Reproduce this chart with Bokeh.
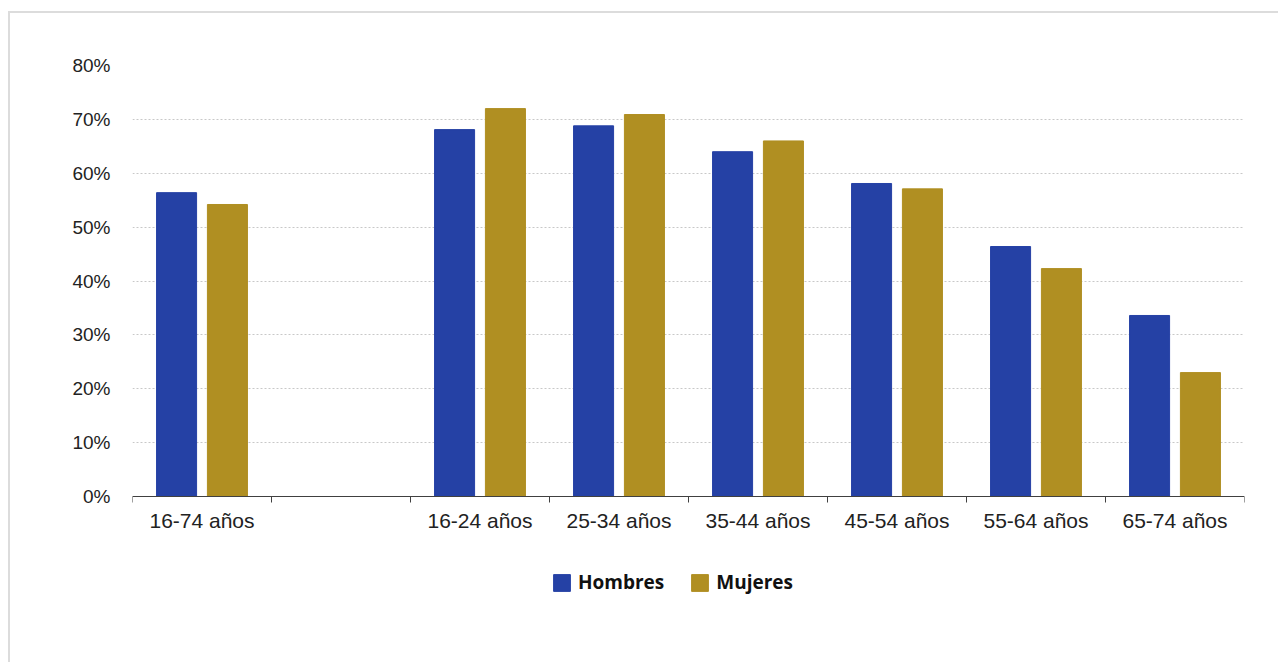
from bokeh.plotting import figure
from bokeh.models import (ColumnDataSource, FixedTicker, Legend, LegendItem,
                          NumeralTickFormatter)
from bokeh.embed import file_html
from bokeh.resources import INLINE

# Age groups; the empty slot separates the total from the breakdown
categories = ["16-74 años", "", "16-24 años", "25-34 años", "35-44 años",
              "45-54 años", "55-64 años", "65-74 años"]
hombres = [56.4, None, 68.1, 68.8, 64.0, 58.1, 46.4, 33.6]
mujeres = [54.2, None, 72.0, 70.9, 66.0, 57.1, 42.3, 23.0]
y_ticks = [0, 10, 20, 30, 40, 50, 60, 70, 80]

BLUE = "#2541a5"
GOLD = "#b08f22"

centers = [i + 0.5 for i, c in enumerate(categories)]
idx = [i for i, c in enumerate(categories) if c]
src_h = ColumnDataSource(dict(x=[centers[i] - 0.183 for i in idx],
                              top=[hombres[i] / 100 for i in idx]))
src_m = ColumnDataSource(dict(x=[centers[i] + 0.183 for i in idx],
                              top=[mujeres[i] / 100 for i in idx]))

# the frame reaches below zero so the legend can sit inside it
PX_PER_UNIT = 538.75
FRAME_H = 555
y_top = 0.8
y_bottom = y_top - FRAME_H / PX_PER_UNIT

p = figure(frame_width=1112, frame_height=FRAME_H,
           x_range=(0, len(categories)), y_range=(y_bottom, y_top),
           output_backend="svg", toolbar_location=None,
           min_border_left=122, min_border_right=34, min_border_top=52,
           min_border_bottom=44)
p.margin = (11, 0, 0, 8)
p.styles = {"border-left": "2px solid #dcdcdc", "border-top": "2px solid #dcdcdc"}

r_h = p.vbar(x="x", top="top", width=0.288, source=src_h, fill_color=BLUE,
             line_color=BLUE)
r_m = p.vbar(x="x", top="top", width=0.288, source=src_m, fill_color=GOLD,
             line_color=GOLD)

p.outline_line_color = None
p.background_fill_color = "white"
p.border_fill_color = "white"

# x axis pinned at zero: labels centred under each group,
# tick marks on the group boundaries
xa = p.xaxis[0]
xa.fixed_location = 0
xa.ticker = FixedTicker(ticks=[centers[i] for i in idx],
                        minor_ticks=list(range(len(categories) + 1)))
xa.major_label_overrides = {centers[i]: categories[i] for i in idx}
xa.major_tick_in = 0
xa.major_tick_out = 0
xa.minor_tick_in = 0
xa.minor_tick_out = 6
xa.minor_tick_line_color = "#404040"
xa.axis_line_color = "#404040"
xa.major_label_standoff = 6
xa.major_label_text_font = "Liberation Sans"
xa.major_label_text_font_size = "21px"
xa.major_label_text_color = "#222222"

ya = p.yaxis[0]
ya.ticker = FixedTicker(ticks=[t / 100 for t in y_ticks])
ya.formatter = NumeralTickFormatter(format="0%")
ya.axis_line_color = None
ya.major_tick_line_color = None
ya.minor_tick_line_color = None
ya.major_label_standoff = 16
ya.major_label_text_font = "Liberation Sans"
ya.major_label_text_font_size = "19px"
ya.major_label_text_color = "#222222"

p.xgrid.grid_line_color = None
p.ygrid.grid_line_color = "#c8c8c8"
p.ygrid.grid_line_dash = "2 2"
p.ygrid.grid_line_width = 1

legend = Legend(items=[LegendItem(label="Hombres", renderers=[r_h]),
                       LegendItem(label="Mujeres", renderers=[r_m])],
                orientation="horizontal", location=(419, 25),
                glyph_width=21, glyph_height=21, spacing=25,
                label_text_font="Open Sans", label_text_font_style="bold",
                label_text_font_size="19px", label_text_color="#111111",
                label_standoff=6,
                border_line_color=None, background_fill_alpha=0,
                padding=0, margin=0)
p.add_layout(legend, "center")

open("out.html", "w").write(file_html(p, INLINE))
